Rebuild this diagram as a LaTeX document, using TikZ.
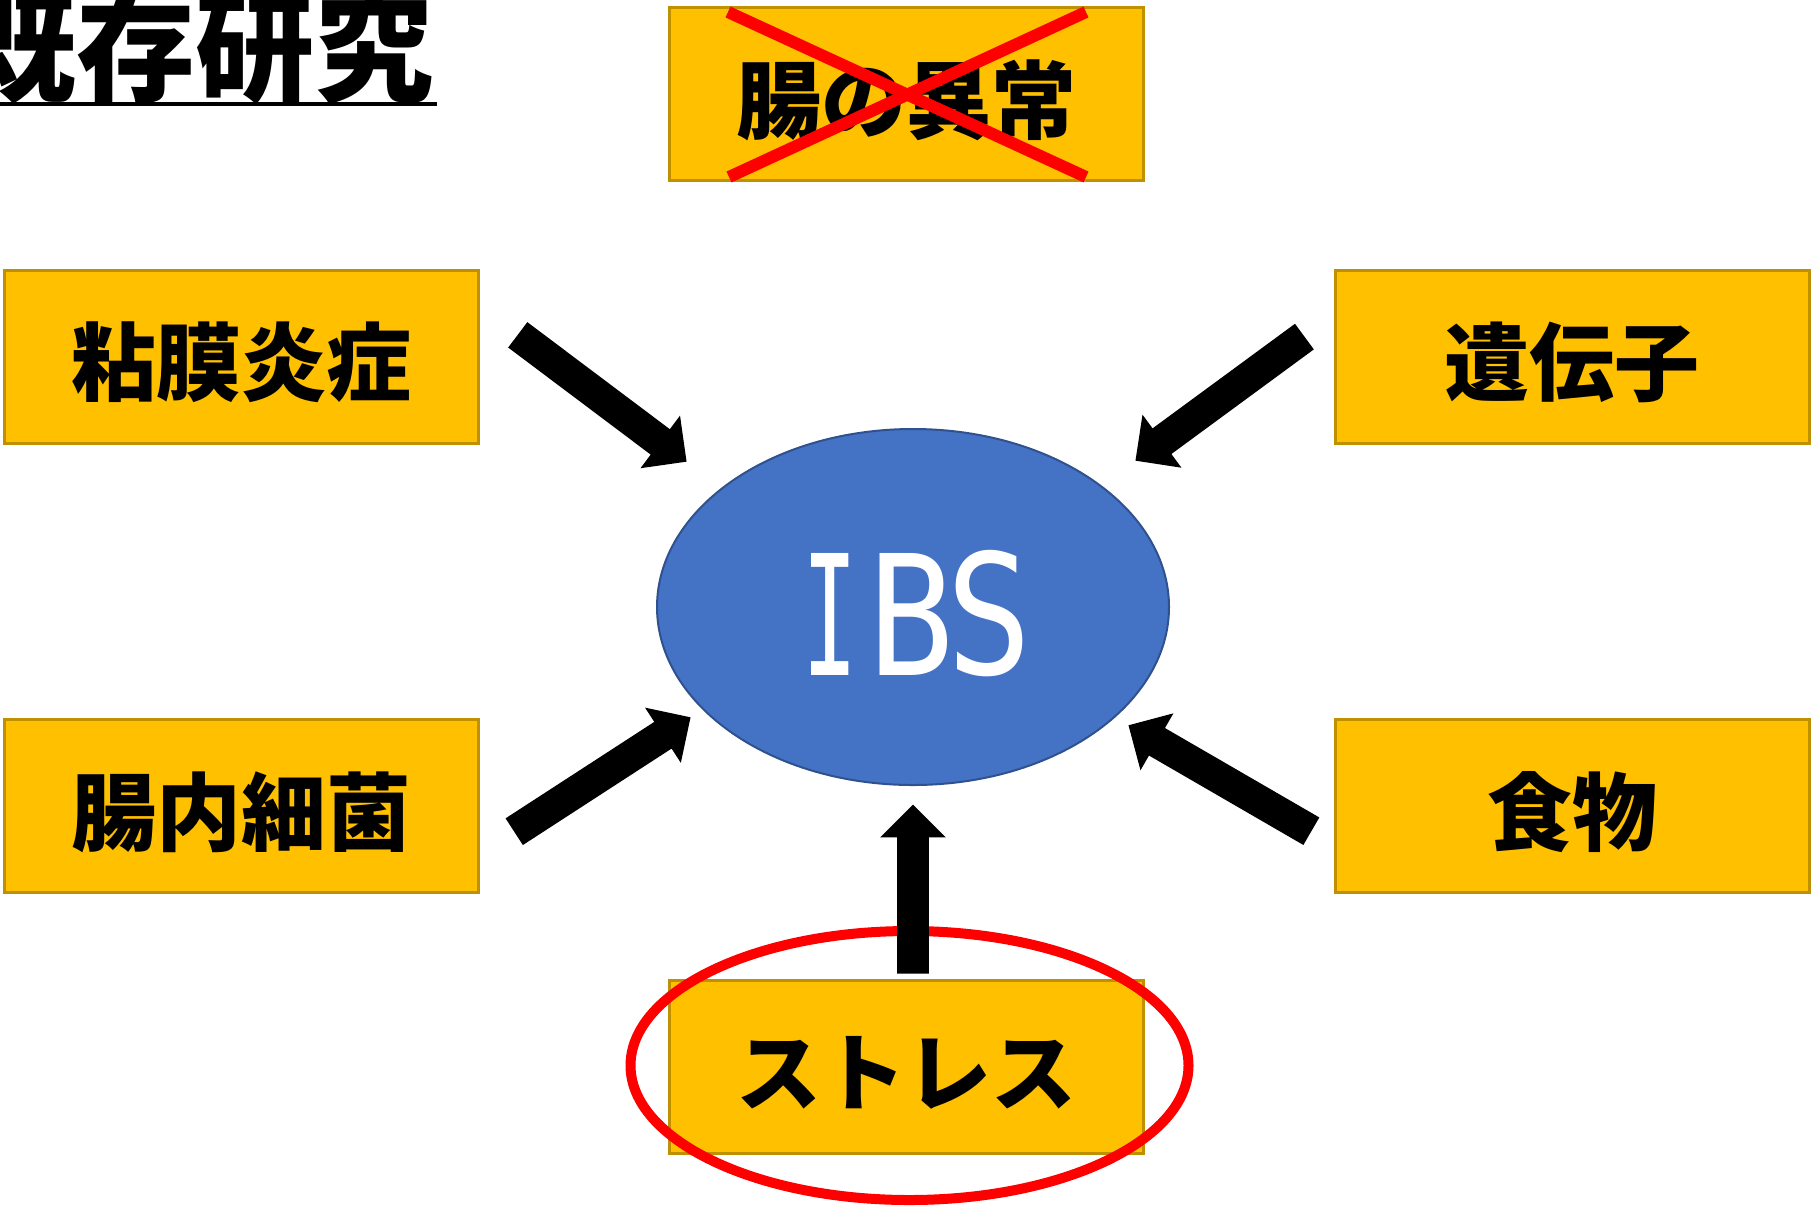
\documentclass[tikz,border=0pt]{standalone}
\usepackage{fontspec}
\newfontfamily\jp{Noto Sans CJK JP}
\newfontfamily\ibsfont{DejaVu Sans Mono}
\usetikzlibrary{arrows.meta,shapes.geometric,shapes.arrows,calc}
\definecolor{boxfill}{HTML}{FFC000}
\definecolor{boxline}{HTML}{BF9000}
\definecolor{ibsfill}{HTML}{4472C4}
\definecolor{ibsline}{HTML}{2F528F}
\newcommand{\myblockarr}[3]{%
  \path let \p1=($(#3)-(#2)$), \n1={atan2(\y1,\x1)}, \n2={veclen(\x1,\y1)} in
    node[barrow, rotate=\n1, minimum height=\n2, anchor=tip] (#1) at (#3) {};}
\begin{document}
\begin{tikzpicture}[x=0.5pt,y=-0.5pt,
  boxnode/.style={rectangle, fill=boxfill, draw=boxline, line width=1.5pt,
    minimum width=237pt, minimum height=86.5pt, inner sep=0pt},
  boxtext/.style={font=\jp\bfseries\fontsize{42.5pt}{50pt}\selectfont, text=black, inner sep=0pt},
  barrow/.style={single arrow, fill=black, inner xsep=0pt, inner ysep=7.75pt,
    minimum width=0pt, single arrow head extend=8.5pt, single arrow tip angle=90,
    shape border uses incircle=false},
  crossline/.style={draw=red, line width=6pt},
  ibsletter/.style={font=\ibsfont\fontsize{83.7pt}{90pt}\selectfont, text=white, inner sep=0pt},
]
\fill[white] (0,0) rectangle (1813,1211);
\useasboundingbox (0,0) rectangle (1813,1211);

% title
\node[font=\jp\bfseries\fontsize{59.5pt}{64pt}\selectfont, inner sep=0pt, anchor=base east] (title) at (434,92) {既存研究};
\draw[line width=2pt] (0,104) -- (437,104);

% boxes
\node[boxnode] (top) at (906.5,94) {};
\node[boxnode] (l1) at (241,356.5) {};
\node[boxnode] (r1) at (1572,356.5) {};
\node[boxnode] (l2) at (241,805.5) {};
\node[boxnode] (r2) at (1572,805.5) {};
\node[boxnode] (bot) at (906.5,1066.5) {};

\node[boxtext] (ttop) at ([yshift=-3.25pt]top.center) {腸の異常};
\node[boxtext] (tl1) at ([yshift=-3pt]l1.center) {粘膜炎症};
\node[boxtext] (tr1) at ([yshift=-3pt]r1.center) {遺伝子};
\node[boxtext] (tl2) at ([yshift=-3.25pt]l2.center) {腸内細菌};
\node[boxtext] (tr2) at ([yshift=-3.5pt]r2.center) {食物};
\node[boxtext] (tbot) at ([yshift=-3.25pt]bot.center) {ストレス};

% cross over top box
\coordinate (x1) at (728,12);
\coordinate (x2) at (1086,177);
\coordinate (x3) at (1086,12);
\coordinate (x4) at (729,177);
\draw[crossline] (x1) -- (x2);
\draw[crossline] (x3) -- (x4);

% IBS ellipse
\node[ellipse, fill=ibsfill, draw=ibsline, line width=1pt, minimum width=256pt, minimum height=178pt, inner sep=0pt] (ibs) at (913,607) {};
\node[ibsletter] (ibsI) at (830,614) {\scalebox{0.55}[1]{I}};
\node[ibsletter] (ibsB) at (911,614) {\scalebox{0.85}[1]{B}};
\node[ibsletter] (ibsS) at (989,614) {\scalebox{0.85}[1]{S}};

% red ellipse around stress
\node[ellipse, draw=red, line width=5pt, minimum width=279pt, minimum height=134.5pt, inner sep=0pt] (mark) at (909.5,1065.5) {};

% arrows
\coordinate (a1s) at (518,335);   \coordinate (a1e) at (687,462);
\coordinate (a2s) at (1304.5,336.5); \coordinate (a2e) at (1135,461);
\coordinate (a3s) at (514.5,831.5); \coordinate (a3e) at (691,717);
\coordinate (a4s) at (1311,831); \coordinate (a4e) at (1128,725);
\coordinate (a5s) at (913,973); \coordinate (a5e) at (913,804);
\myblockarr{arr1}{a1s}{a1e}
\myblockarr{arr2}{a2s}{a2e}
\myblockarr{arr3}{a3s}{a3e}
\myblockarr{arr4}{a4s}{a4e}
\myblockarr{arr5}{a5s}{a5e}
\end{tikzpicture}
\end{document}
